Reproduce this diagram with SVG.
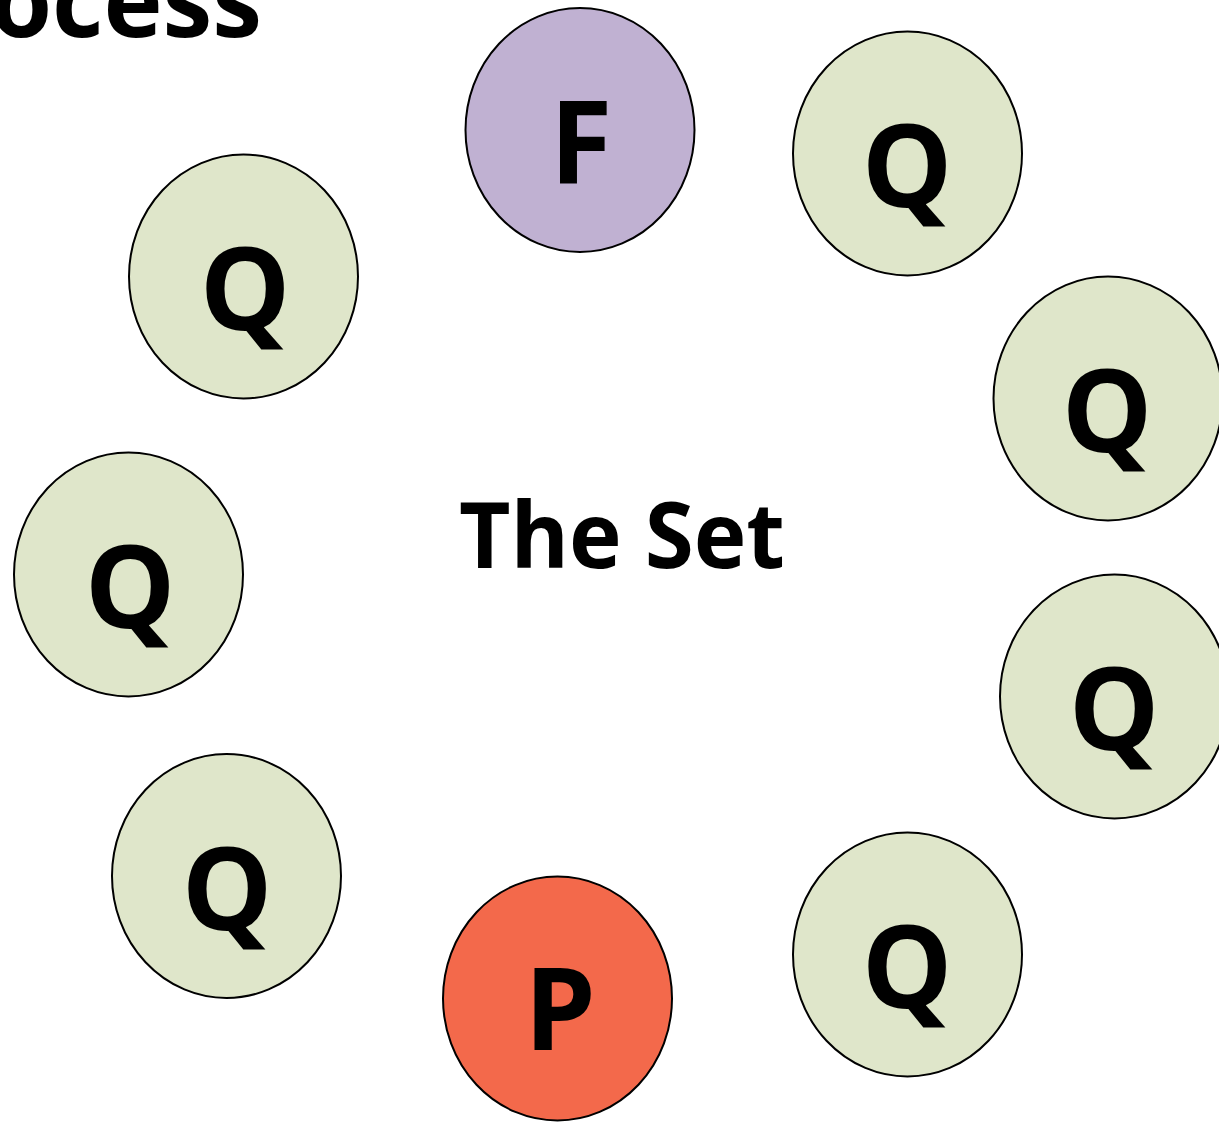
<svg xmlns="http://www.w3.org/2000/svg" width="1219" height="1122" viewBox="0 0 1219 1122">
<style>
.n{stroke:#000;stroke-width:2}
.q{fill:#DFE6CA}
.f{fill:#C0B1D2}
.p{fill:#F3694B}
.l{font-family:"Open Sans","Noto Sans",sans-serif;font-weight:bold;font-size:114px;text-anchor:middle;fill:#000}
.t{font-family:"Open Sans","Noto Sans",sans-serif;font-weight:bold;fill:#000}
</style>
<rect width="1219" height="1122" fill="#fff"/>
<text class="t" x="262" y="37" font-size="100" text-anchor="end">ocess</text>
<text class="t" x="622" y="568" font-size="92" text-anchor="middle" textLength="326" lengthAdjust="spacingAndGlyphs">The Set</text>
<g id="node-F"><ellipse class="n f" cx="580" cy="130" rx="114.5" ry="122"/><text class="l" x="581" y="183">F</text></g>
<g id="node-Q1"><ellipse class="n q" cx="907.5" cy="153.5" rx="114.5" ry="122"/><text class="l" x="907" y="207">Q</text></g>
<g id="node-Q2"><ellipse class="n q" cx="1108" cy="398.5" rx="114.5" ry="122"/><text class="l" x="1107" y="452">Q</text></g>
<g id="node-Q3"><ellipse class="n q" cx="1114.5" cy="696.5" rx="114.5" ry="122"/><text class="l" x="1114" y="750">Q</text></g>
<g id="node-Q4"><ellipse class="n q" cx="907.5" cy="954.5" rx="114.5" ry="122"/><text class="l" x="907" y="1008">Q</text></g>
<g id="node-P"><ellipse class="n p" cx="557.5" cy="998.5" rx="114.5" ry="122"/><text class="l" x="560" y="1050">P</text></g>
<g id="node-Q5"><ellipse class="n q" cx="226.5" cy="876" rx="114.5" ry="122"/><text class="l" x="227" y="930">Q</text></g>
<g id="node-Q6"><ellipse class="n q" cx="128.5" cy="574.5" rx="114.5" ry="122"/><text class="l" x="130" y="628">Q</text></g>
<g id="node-Q7"><ellipse class="n q" cx="243.5" cy="276.5" rx="114.5" ry="122"/><text class="l" x="245" y="330">Q</text></g>
<g id="connectors"></g>
</svg>
